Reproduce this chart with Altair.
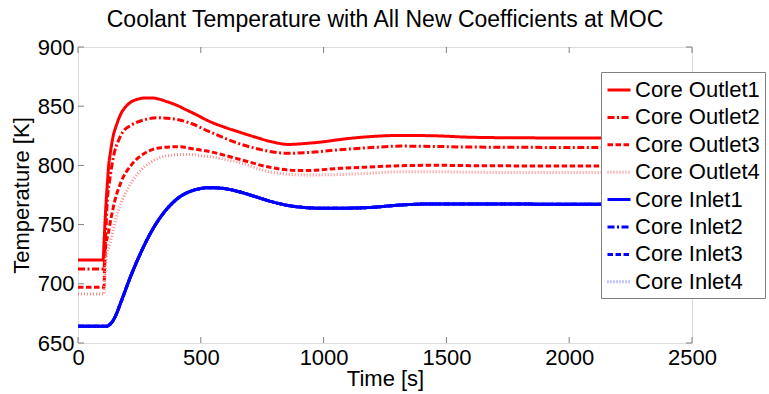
import altair as alt
import pandas as pd

FONT = "Liberation Sans"

series_names = ["Core Outlet1", "Core Outlet2", "Core Outlet3", "Core Outlet4",
                "Core Inlet1", "Core Inlet2", "Core Inlet3", "Core Inlet4"]
series_colors = ["#ff0000", "#ff0000", "#ff0000", "#ff8a8a",
                 "#0000ff", "#0000ff", "#0000ff", "#8a8aff"]
series_dashes = [[1, 0], [7, 2.5, 2, 2.5], [5.5, 2.5], [1, 2],
                 [1, 0], [7, 2.5, 2, 2.5], [5.5, 2.5], [1, 2]]

outlet1_t = [0, 102, 106, 112, 119, 125, 132, 138, 144, 155, 166, 178, 190, 217, 245, 275, 300,
             330, 360, 400, 440, 480, 537, 600, 653, 720, 788, 856, 924, 1000, 1067, 1182, 1318,
             1453, 1596, 1800, 2000, 2500]
outlet1_T = [720, 720, 735, 760, 783, 800, 811, 819, 825.5, 833, 839.5, 845, 848.5, 853.7, 856,
             857, 857, 856, 854, 851, 847, 843, 837, 832, 828.4, 824, 820, 817.7, 818.5, 820,
             821.9, 824.2, 825.3, 825, 823.8, 823.3, 823.2, 823.2]

outlet2_t = [0, 106, 109, 113, 119, 128, 136, 149, 163, 183, 217, 265, 326, 380, 461, 530, 653,
             788, 856, 924, 1046, 1182, 1318, 1453, 1596, 2000, 2500]
outlet2_T = [712.4, 712.4, 725, 741.4, 769.4, 786, 797.5, 811.6, 820, 828.4, 834, 838.2, 840.2,
             839.6, 835.4, 829, 818.6, 811.6, 810.2, 810.7, 812.9, 814.9, 816.3, 816, 815.5,
             815.2, 815.2]

outlet3_t = [0, 106, 108, 111, 115, 122, 135, 149, 176, 217, 271, 339, 407, 475, 537, 653, 788,
             856, 924, 1067, 1182, 1318, 1453, 1596, 2000, 2500]
outlet3_T = [697, 697, 710, 727.3, 735, 741.4, 756, 769.4, 786.3, 800.3, 810.2, 815, 815.8, 813.8,
             811.6, 805.4, 798.1, 796.1, 795.6, 797.5, 798.6, 799.8, 800.1, 799.8, 799.5, 799.5]

outlet4_t = [0, 106, 110, 115, 129, 145, 163, 204, 244, 299, 366, 434, 502, 530, 653, 788, 856,
             924, 1067, 1182, 1318, 1453, 1596, 2000, 2500]
outlet4_T = [691.4, 691.4, 708, 721.7, 733, 747, 761, 780.7, 793.3, 803.1, 808.2, 809.3, 808.2,
             807.5, 802.6, 794.2, 792.5, 791.9, 792.3, 793.3, 794.7, 794.7, 794.2, 793.9, 793.9]

inlet_t = [0, 115, 122, 129, 136, 149, 176, 217, 258, 299, 353, 407, 475, 537, 585, 653, 721,
           788, 856, 924, 992, 1067, 1182, 1318, 1453, 1596, 2000, 2500]
inlet_T = [664.1, 664.1, 664.5, 665.5, 667, 671.2, 685.2, 707.7, 727.3, 744.2, 761, 772.3, 779.3,
           781.2, 780.7, 777.9, 773.7, 769.4, 766.1, 764.4, 763.8, 763.8, 764.4, 766.6, 767.5,
           767.5, 767.2, 767.2]

x_ticks = [0, 500, 1000, 1500, 2000, 2500]
y_ticks = [650, 700, 750, 800, 850, 900]

series_data = [
    ("Core Outlet1", outlet1_t, outlet1_T),
    ("Core Outlet2", outlet2_t, outlet2_T),
    ("Core Outlet3", outlet3_t, outlet3_T),
    ("Core Outlet4", outlet4_t, outlet4_T),
    ("Core Inlet1", inlet_t, inlet_T),
    ("Core Inlet2", inlet_t, inlet_T),
    ("Core Inlet3", inlet_t, inlet_T),
    ("Core Inlet4", inlet_t, inlet_T),
]
rows = []
for name, ts, vs in series_data:
    for t, v in zip(ts, vs):
        rows.append({"series": name, "t": t, "T": v})
df = pd.DataFrame(rows)

W, H = 614, 296
GRAY = "#808080"

xscale = alt.Scale(domain=[0, 2500], nice=False, zero=False)
yscale = alt.Scale(domain=[650, 900], nice=False, zero=False)

x_axis = alt.Axis(values=x_ticks, domain=False, ticks=False, grid=False,
                  labelFontSize=22, labelPadding=4, titleFontSize=22,
                  titlePadding=0, labelFont=FONT, titleFont=FONT,
                  labelColor="black", titleColor="black", titleFontWeight="normal",
                  labelFlush=False, format="d")
y_axis = alt.Axis(values=y_ticks, domain=False, ticks=False, grid=False,
                  labelFontSize=22, labelPadding=4, titleFontSize=22,
                  titlePadding=4, labelFont=FONT, titleFont=FONT,
                  labelColor="black", titleColor="black", titleFontWeight="normal",
                  labelFlush=False, format="d")

x_enc = alt.X("t:Q", scale=xscale, title="Time [s]", axis=x_axis)
y_enc = alt.Y("T:Q", scale=yscale, title="Temperature [K]", axis=y_axis)

legend = alt.Legend(
    orient="none", legendX=523, legendY=25, title=None,
    fillColor="white", strokeColor=GRAY, padding=5,
    labelFont=FONT, labelFontSize=22, labelColor="black", labelOffset=3,
    symbolType="stroke", symbolSize=529, symbolStrokeWidth=3, rowPadding=3.4,
    labelLimit=300,
)

enc = dict(
    x=x_enc,
    y=y_enc,
    color=alt.Color("series:N", scale=alt.Scale(domain=series_names, range=series_colors),
                    title=None, legend=legend),
    strokeDash=alt.StrokeDash("series:N",
                              scale=alt.Scale(domain=series_names, range=series_dashes),
                              title=None, legend=legend),
)

lines = alt.Chart(df).mark_line(strokeWidth=3, interpolate="monotone", clip=True).encode(**enc)
top_inlet = alt.Chart(df).transform_filter(alt.datum.series == "Core Inlet1").mark_line(
    strokeWidth=3, interpolate="monotone", clip=True).encode(**enc)

xt = pd.DataFrame({"t": x_ticks})
yt = pd.DataFrame({"T": y_ticks})

tick_bottom = alt.Chart(xt).mark_rule(color=GRAY, strokeWidth=1).encode(
    x=x_enc, y=alt.value(H), y2=alt.value(H - 6))
tick_top = alt.Chart(xt).mark_rule(color=GRAY, strokeWidth=1).encode(
    x=x_enc, y=alt.value(0), y2=alt.value(6))
tick_left = alt.Chart(yt).mark_rule(color=GRAY, strokeWidth=1).encode(
    y=y_enc, x=alt.value(0), x2=alt.value(6))
tick_right = alt.Chart(yt).mark_rule(color=GRAY, strokeWidth=1).encode(
    y=y_enc, x=alt.value(W), x2=alt.value(W - 6))

chart = alt.layer(lines, top_inlet, tick_bottom, tick_top, tick_left, tick_right).properties(
    width=W, height=H,
    title=alt.Title("Coolant Temperature with All New Coefficients at MOC",
                    font=FONT, fontSize=23, fontWeight="normal", color="black",
                    anchor="middle", baseline="alphabetic", offset=17, dy=31, frame="group"),
    autosize=alt.AutoSizeParams(type="none"),
    padding={"left": 78, "top": 47, "right": 77, "bottom": 51},
).configure_view(stroke=GRAY, strokeWidth=1).configure(background="white")

chart.save("out.html", embed_options={"renderer": "svg", "actions": False})
